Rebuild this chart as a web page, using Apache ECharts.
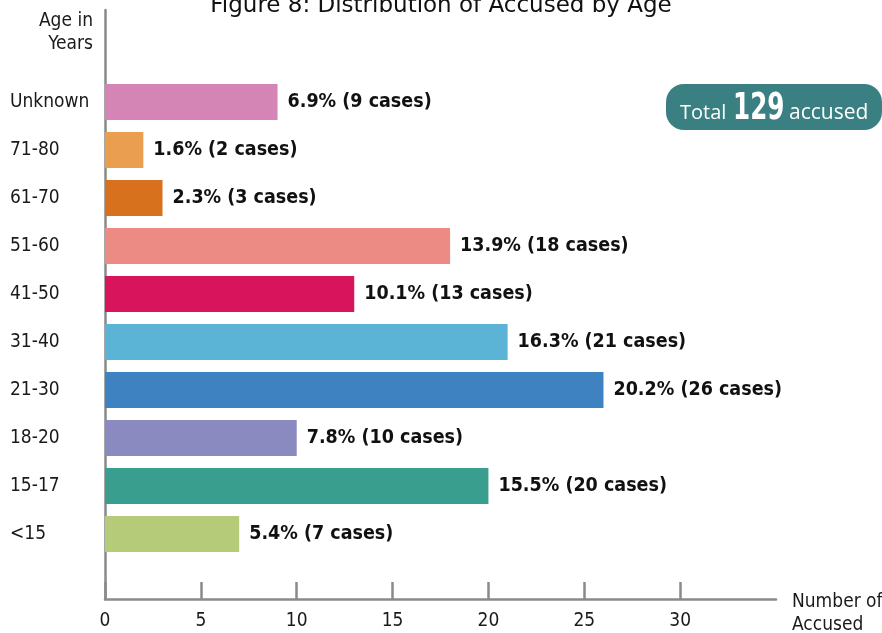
<!DOCTYPE html>
<html>
<head>
<meta charset="utf-8">
<script src="https://cdn.jsdelivr.net/npm/echarts@6/dist/echarts.min.js"></script>
<style>
  html, body { margin: 0; padding: 0; background: #fff; }
  #chart { width: 882px; height: 633px; }
</style>
</head>
<body>
<div id="chart"></div>
<script>
// age groups, top to bottom
const ageGroups = ["Unknown", "71-80", "61-70", "51-60", "41-50", "31-40", "21-30", "18-20", "15-17", "<15"];
const cases = [9, 2, 3, 18, 13, 21, 26, 10, 20, 7];
const percents = ["6.9", "1.6", "2.3", "13.9", "10.1", "16.3", "20.2", "7.8", "15.5", "5.4"];
const barColors = ["#d485b5", "#e99f4f", "#d8711d", "#ec8a84", "#d8145c", "#5bb4d6", "#3f82c2", "#8a8ac0", "#3a9e8e", "#b5cb7a"];
const xTicks = [0, 5, 10, 15, 20, 25, 30];
const totalAccused = 129;

const condensed = '"DejaVu Sans Condensed", "Liberation Sans Narrow", Roboto, sans-serif';

const chart = echarts.init(document.getElementById("chart"));

chart.setOption({
  animation: false,
  backgroundColor: "#fff",
  title: {
    text: "Figure 8: Distribution of Accused by Age",
    left: "center",
    top: -10,
    textStyle: { fontFamily: '"DejaVu Sans", sans-serif', fontSize: 23, fontWeight: "normal", color: "#111" }
  },
  grid: [
    { left: 105, right: 106, top: 78, height: 480 },
    { left: 105, right: 106, top: 10, bottom: 34 }
  ],
  xAxis: [
    {
      gridIndex: 0, type: "value", min: 0, max: 35,
      axisLine: { show: false }, axisTick: { show: false },
      axisLabel: { show: false }, splitLine: { show: false }
    },
    {
      gridIndex: 1, type: "value", min: 0, max: 35, interval: 5,
      axisLine: { show: true, lineStyle: { color: "#8a8a8a", width: 2.5 } },
      axisTick: { show: true, inside: true, length: 17, customValues: xTicks, lineStyle: { color: "#8a8a8a", width: 2.5 } },
      axisLabel: { customValues: xTicks, margin: 13, color: "#1a1a1a", fontSize: 19, fontFamily: condensed },
      splitLine: { show: false }
    }
  ],
  yAxis: [
    {
      gridIndex: 0, type: "category", data: ageGroups, inverse: true,
      axisLine: { show: false }, axisTick: { show: false },
      axisLabel: { margin: 95, align: "left", color: "#1a1a1a", fontSize: 19, fontFamily: condensed }
    },
    {
      gridIndex: 1, type: "value", min: 0, max: 1,
      axisLine: { show: true, lineStyle: { color: "#8a8a8a", width: 2.5 } },
      axisTick: { show: false }, axisLabel: { show: false }, splitLine: { show: false }
    }
  ],
  graphic: [
    {
      type: "text", x: 93, y: 10,
      style: { text: "Age in\nYears", align: "right", verticalAlign: "top", lineHeight: 23, fontSize: 19, fontFamily: condensed, fill: "#1a1a1a" }
    },
    {
      type: "text", x: 792, y: 591,
      style: { text: "Number of\nAccused", verticalAlign: "top", lineHeight: 23, fontSize: 19, fontFamily: condensed, fill: "#1a1a1a" }
    },
    {
      type: "rect", left: 666, top: 84,
      shape: { width: 216, height: 46, r: 18 },
      style: { fill: "#3a8082" }
    },
    {
      type: "text", x: 680, y: 113,
      style: { text: "Total", verticalAlign: "middle", fontSize: 20, fontFamily: '"Open Sans", sans-serif', fill: "#fff" }
    },
    {
      type: "text", x: 733, y: 109, scaleX: 0.74,
      style: { text: String(totalAccused), verticalAlign: "middle", fontSize: 37, fontWeight: "bold", fontFamily: condensed, fill: "#fff" }
    },
    {
      type: "text", x: 789, y: 113,
      style: { text: "accused", verticalAlign: "middle", fontSize: 21, fontFamily: '"Open Sans", sans-serif', fill: "#fff" }
    }
  ],
  series: [
    {
      type: "bar",
      xAxisIndex: 0, yAxisIndex: 0,
      barWidth: 36,
      data: cases.map((v, i) => ({ value: v, itemStyle: { color: barColors[i] } })),
      label: {
        show: true, position: "right", distance: 10,
        formatter: p => percents[p.dataIndex] + "% (" + p.value + " cases)",
        fontSize: 19.5, fontWeight: "bold", fontFamily: condensed, color: "#111"
      }
    }
  ]
});
</script>
</body>
</html>
